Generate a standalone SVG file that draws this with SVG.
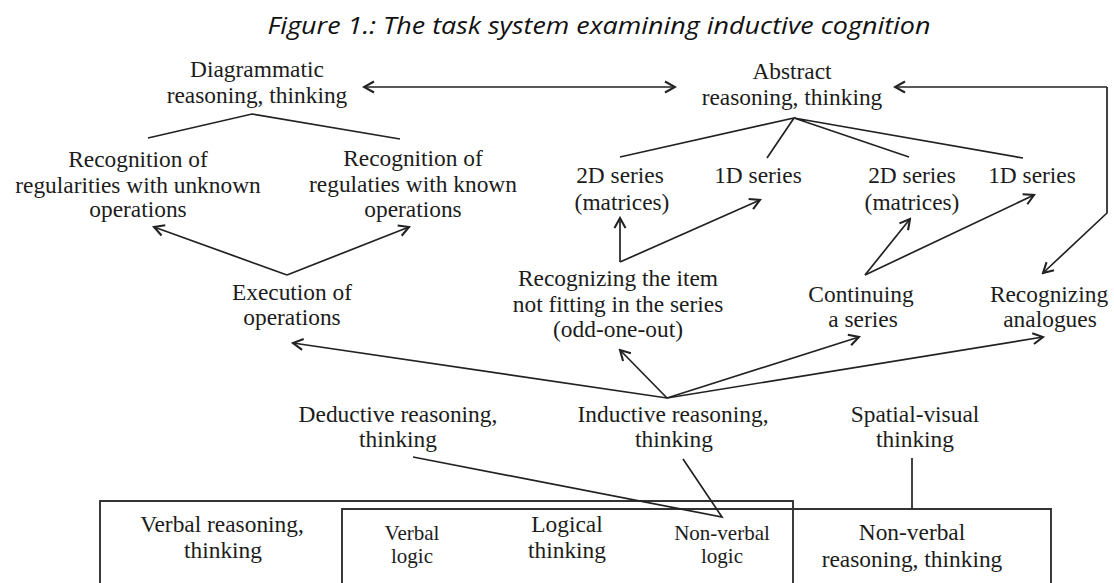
<svg xmlns="http://www.w3.org/2000/svg" width="1114" height="583" viewBox="0 0 1114 583">
<style>
  text { font-family: "Liberation Serif", "Times New Roman", serif; font-size: 23.4px; fill: #1c1c1c; text-anchor: middle; }
  .small { font-size: 21px; }
  .title { font-family: "Open Sans", "Liberation Sans", sans-serif; font-style: italic; font-size: 24px; fill: #111; }
  .ln { fill: none; stroke: #222; stroke-width: 1.7; }
  .arr { fill: none; stroke: #222; stroke-width: 1.7; marker-end: url(#ah); }
  .box { fill: none; stroke: #333; stroke-width: 1.9; }
</style>
<defs>
  <marker id="ah" viewBox="-12 -7 14 14" refX="0" refY="0" markerWidth="14" markerHeight="14" markerUnits="userSpaceOnUse" orient="auto-start-reverse">
    <path d="M-10,-5.5 L0,0 L-10,5.5" fill="none" stroke="#222" stroke-width="2.1"/>
  </marker>
</defs>
<rect width="1114" height="583" fill="#ffffff"/>

<text class="title" x="599" y="34" textLength="663" lengthAdjust="spacingAndGlyphs">Figure 1.: The task system examining inductive cognition</text>

<g id="diagrammatic"><text x="257" y="77">Diagrammatic</text><text x="257" y="103">reasoning, thinking</text></g>
<g id="abstract"><text x="792" y="79">Abstract</text><text x="792" y="105">reasoning, thinking</text></g>
<g id="rec-unknown"><text x="138" y="167">Recognition of</text><text x="138" y="193">regularities with unknown</text><text x="138" y="217">operations</text></g>
<g id="rec-known"><text x="413" y="166">Recognition of</text><text x="413" y="192">regulaties with known</text><text x="413" y="217">operations</text></g>
<g id="series2d-a"><text x="620" y="183">2D series</text><text x="622" y="210">(matrices)</text></g>
<g id="series1d-a"><text x="758" y="183">1D series</text></g>
<g id="series2d-b"><text x="912" y="183">2D series</text><text x="912" y="210">(matrices)</text></g>
<g id="series1d-b"><text x="1032" y="183">1D series</text></g>
<g id="execution"><text x="292" y="300">Execution of</text><text x="292" y="325">operations</text></g>
<g id="odd-one-out"><text x="618" y="286">Recognizing the item</text><text x="618" y="312">not fitting in the series</text><text x="618" y="337">(odd-one-out)</text></g>
<g id="continuing"><text x="861" y="302">Continuing</text><text x="863" y="327">a series</text></g>
<g id="analogues"><text x="1049" y="302">Recognizing</text><text x="1050" y="327">analogues</text></g>
<g id="deductive"><text x="398" y="422">Deductive reasoning,</text><text x="398" y="447">thinking</text></g>
<g id="inductive"><text x="673" y="422">Inductive reasoning,</text><text x="674" y="447">thinking</text></g>
<g id="spatial"><text x="915" y="422">Spatial-visual</text><text x="915" y="447">thinking</text></g>

<g id="box-verbal-logical"><path class="box" d="M100,590 V501 H793 V590"/></g>
<g id="box-logical-nonverbal"><path class="box" d="M342,590 V509 H1051 V590"/></g>
<g id="verbal"><text x="222" y="532">Verbal reasoning,</text><text x="223" y="558">thinking</text></g>
<g id="verbal-logic"><text class="small" x="412" y="540">Verbal</text><text class="small" x="412" y="563">logic</text></g>
<g id="logical"><text x="567" y="532">Logical</text><text x="567" y="558">thinking</text></g>
<g id="nonverbal-logic"><text class="small" x="722" y="540">Non-verbal</text><text class="small" x="722" y="563">logic</text></g>
<g id="nonverbal"><text x="912" y="540">Non-verbal</text><text x="912" y="567">reasoning, thinking</text></g>

<g id="connectors">
  <path class="arr" d="M364,87 H675" marker-start="url(#ah)"/>
  <path class="arr" d="M1107,87 H895"/>
  <path class="arr" d="M1107,87 V213 L1043,273"/>
  <path class="ln" d="M148,138 L252,114 L400,139"/>
  <path class="ln" d="M620,157 L794,118 L767,158 M794,118 L909,157 M794,118 L1023,158"/>
  <path class="arr" d="M287,275 L154,227"/>
  <path class="arr" d="M287,275 L409,227"/>
  <path class="arr" d="M620,262 V218"/>
  <path class="arr" d="M620,262 L760,200"/>
  <path class="arr" d="M865,275 L910,219"/>
  <path class="arr" d="M865,275 L1034,195"/>
  <path class="arr" d="M667,398 L293,343"/>
  <path class="arr" d="M667,398 L620,350"/>
  <path class="arr" d="M667,398 L859,337"/>
  <path class="arr" d="M667,398 L1043,337"/>
  <path class="ln" d="M413,457 L722,517 L683,459"/>
  <path class="ln" d="M912,458 V509"/>
</g>
</svg>
